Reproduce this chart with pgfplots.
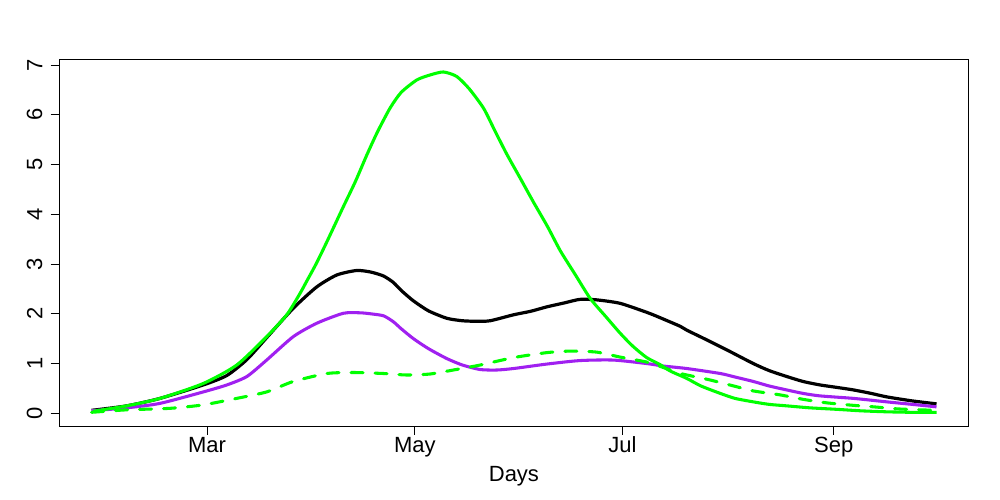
\documentclass[border=0pt]{standalone}
\usepackage{fontspec}
\setmainfont{Liberation Sans}
\usepackage{pgfplots}
\pgfplotsset{compat=1.18}
\definecolor{rgreen}{HTML}{00FF00}
\definecolor{rpurple}{HTML}{A020F0}
\begin{document}
\begin{tikzpicture}
\path[use as bounding box] (-44.5pt,-55.5pt) rectangle (705.5pt,319.5pt);
\begin{axis}[
  at={(0,0)}, anchor=south west,
  scale only axis, width=681.9pt, height=275pt,
  xmin=-43.38, xmax=223.6, ymin=-0.255, ymax=7.114,
  axis line style={line width=0.75pt},
  tick style={line width=0.75pt, black},
  tick pos=left, tick align=outside, major tick length=6.45pt,
  xtick={0,61,122,184}, xticklabels={Mar,May,Jul,Sep},
  ytick={0,1,2,3,4,5,6,7},
  /pgf/number format/assume math mode=true,
  font=\fontsize{16.5}{16.5}\selectfont,
  ticklabel style={font=\fontsize{16.5}{16.5}\selectfont, inner sep=0pt},
  xticklabel style={anchor=base, yshift=-13.25pt},
  yticklabel style={xshift=-6pt, rotate=90, anchor=south},
  xlabel={Days},
  xlabel style={at={(axis description cs:0.5,0)}, anchor=base, yshift=-41.8pt, inner sep=0pt},
  every axis plot/.append style={smooth, tension=0.4, line join=round},
  clip=true,
]
% black
\addplot[black, line width=2.4pt] coordinates {
(-33.9,0.06) (-23.6,0.15) (-13.8,0.30) (-1.1,0.57) (5.8,0.76) (11.7,1.08) (17.5,1.52)
(25.3,2.11) (32.2,2.54) (38.1,2.78) (43.9,2.87) (48,2.84) (51.8,2.76) (54.7,2.63)
(57,2.47) (60.6,2.26) (65,2.06) (70.4,1.91) (75,1.86) (79,1.85) (83.1,1.86) (90,1.98)
(95,2.05) (99.8,2.14) (105,2.22) (109.5,2.29) (114.4,2.28) (121.3,2.21) (129.1,2.03)
(131,1.98) (138.9,1.75) (140.9,1.67) (146,1.50) (150.7,1.34) (153.6,1.24) (160.4,1.00)
(165,0.86) (170.2,0.74) (175,0.64) (180,0.57) (185,0.52) (189.8,0.47) (195,0.40)
(199.6,0.33) (207,0.25) (214.2,0.19)
};
% purple
\addplot[rpurple, line width=2.3pt] coordinates {
(-33.9,0.05) (-23.6,0.11) (-13.8,0.20) (-1.1,0.43) (5.8,0.57) (11.7,0.74) (17.5,1.07)
(25.3,1.54) (32.2,1.81) (40,2.01) (44.9,2.02) (48,2.00) (51.8,1.96) (54.7,1.84)
(57,1.70) (60.6,1.50) (65,1.30) (70.4,1.10) (75,0.97) (80.2,0.88) (85,0.87) (90,0.90)
(99.8,0.99) (109.5,1.06) (119.3,1.07) (129.1,1.00) (134,0.95) (140.9,0.90) (150.7,0.80)
(155,0.73) (160.4,0.64) (165,0.55) (170.2,0.47) (175,0.40) (180,0.35) (189.8,0.30)
(199.6,0.23) (207,0.18) (214.2,0.13)
};
% green dashed
\addplot[rgreen, line width=2.3pt, line cap=round, dash pattern=on 9pt off 9pt] coordinates {
(-33.9,0.02) (-23.6,0.07) (-10.9,0.10) (-1.1,0.17) (8.7,0.30) (17.5,0.43) (25.3,0.64)
(35.2,0.80) (43,0.82) (51.8,0.80) (58.6,0.77) (65.5,0.79) (72.3,0.87) (80.2,0.97)
(90,1.12) (99.8,1.22) (106.6,1.25) (114.4,1.23) (121.3,1.13) (129.1,1.03) (134,0.92)
(138.9,0.80) (140.9,0.77) (147.7,0.67) (154.6,0.55) (160.4,0.45) (168.3,0.37)
(175.1,0.28) (182,0.21) (189.8,0.16) (195.7,0.13) (202.5,0.09) (209.4,0.07) (214.2,0.06)
};
% green solid
\addplot[rgreen, line width=2.3pt] coordinates {
(-33.5,0.04) (-23.6,0.15) (-13.8,0.30) (-1.1,0.60) (8.7,0.97) (17.5,1.54) (23.4,1.98)
(27.3,2.41) (29.3,2.66) (32,3.0) (35.2,3.45) (40,4.15) (43.5,4.65) (46.9,5.19) (50,5.65)
(53.7,6.13) (57,6.45) (61.6,6.70) (65.5,6.80) (69.4,6.86) (73.3,6.77) (77,6.52)
(81.2,6.13) (84.5,5.68) (88,5.21) (92,4.72) (95.8,4.25) (100,3.75) (103.7,3.27)
(108,2.80) (112.5,2.31) (117,1.95) (121.3,1.61) (125,1.35) (129.1,1.12) (133,0.98)
(136,0.85) (140.9,0.70) (145,0.55) (150.7,0.40) (155,0.30) (160.4,0.23) (165,0.18)
(170.2,0.15) (177,0.11) (184.9,0.08) (192,0.05) (199.6,0.03) (207,0.02) (214.2,0.02)
};
\end{axis}
\end{tikzpicture}
\end{document}
